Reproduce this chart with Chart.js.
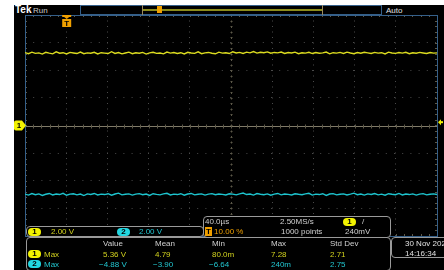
<!DOCTYPE html>
<html>
<head>
<meta charset="utf-8">
<script src="https://cdn.jsdelivr.net/npm/chart.js@4.4.0/dist/chart.umd.min.js"></script>
<style>
  html, body { margin: 0; padding: 0; background: #fff; }
  body { width: 444px; height: 270px; position: relative; overflow: hidden; font-family: "Liberation Sans", Arial, sans-serif; }
  #screen { position: absolute; left: 14px; top: 5px; width: 430px; height: 265px; background: #000; }
  #scope { position: absolute; left: 0; top: 0; }
  .t { position: absolute; font-size: 8px; line-height: 9px; white-space: nowrap; color: #d0d0d0; }
  .box { position: absolute; border: 1px solid #9a9a9a; border-radius: 4px; box-sizing: border-box; background: #000; }
  .badge { position: absolute; width: 13px; height: 8px; border-radius: 5px; color: #000; font-weight: bold;
           font-size: 8px; line-height: 8px; text-align: center; }
  .y { color: #d2d21e; }
  .c { color: #22c6d0; }
  .by { background: #f2f200; }
  .bc { background: #22d6e0; }
</style>
</head>
<body>
<div id="screen"></div>

<!-- top bar -->
<div class="t" style="left:15px;top:5px;font-size:10px;line-height:10px;font-weight:bold;color:#fff;">Tek</div>
<div class="t" style="left:33px;top:6px;color:#c8c8c8;">Run</div>
<div style="position:absolute;left:80px;top:5px;width:302px;height:10px;border:1px solid #35608a;box-sizing:border-box;"></div>
<div style="position:absolute;left:142px;top:5px;width:1px;height:10px;background:#9a8a60;"></div>
<div style="position:absolute;left:322px;top:5px;width:1px;height:10px;background:#9a8a60;"></div>
<div style="position:absolute;left:143px;top:9px;width:179px;height:2px;background:#8c8c1c;"></div>
<div style="position:absolute;left:157px;top:6px;width:5px;height:7px;background:#f0a000;"></div>
<div class="t" style="left:386px;top:6px;color:#e0e0e0;">Auto</div>

<canvas id="scope" width="444" height="270"></canvas>

<!-- channel scale box -->
<div class="box" style="left:26px;top:226px;width:178px;height:11px;"></div>
<div class="badge by" style="left:28px;top:228px;">1</div>
<div class="t y" style="left:51px;top:227px;">2.00 V</div>
<div class="badge bc" style="left:117px;top:228px;">2</div>
<div class="t c" style="left:139px;top:227px;">2.00 V</div>

<!-- horizontal / trigger box -->
<div class="box" style="left:203px;top:216px;width:188px;height:22px;"></div>
<div class="t" style="left:205px;top:217px;">40.0µs</div>
<div class="t" style="left:205px;top:227px;color:#f0a000;"><span style="background:#f0a000;color:#000;font-weight:bold;padding:0 1px;">T</span> 10.00 %</div>
<div class="t" style="left:280px;top:217px;">2.50MS/s</div>
<div class="t" style="left:281px;top:227px;">1000 points</div>
<div class="badge by" style="left:343px;top:218px;">1</div>
<div class="t" style="left:362px;top:217px;">/</div>
<div class="t" style="left:345px;top:227px;">240mV</div>

<!-- measurements box -->
<div class="box" style="left:26px;top:237px;width:365px;height:34px;"></div>
<div class="t" style="left:103px;top:239px;">Value</div>
<div class="t" style="left:155px;top:239px;">Mean</div>
<div class="t" style="left:212px;top:239px;">Min</div>
<div class="t" style="left:271px;top:239px;">Max</div>
<div class="t" style="left:330px;top:239px;">Std Dev</div>

<div class="badge by" style="left:28px;top:250px;">1</div>
<div class="t y" style="left:44px;top:250px;">Max</div>
<div class="t y" style="left:103px;top:250px;">5.36 V</div>
<div class="t y" style="left:155px;top:250px;">4.79</div>
<div class="t y" style="left:212px;top:250px;">80.0m</div>
<div class="t y" style="left:271px;top:250px;">7.28</div>
<div class="t y" style="left:330px;top:250px;">2.71</div>

<div class="badge bc" style="left:28px;top:260px;">2</div>
<div class="t c" style="left:44px;top:260px;">Max</div>
<div class="t c" style="left:99px;top:260px;">−4.88 V</div>
<div class="t c" style="left:153px;top:260px;">−3.90</div>
<div class="t c" style="left:209px;top:260px;">−6.64</div>
<div class="t c" style="left:271px;top:260px;">240m</div>
<div class="t c" style="left:330px;top:260px;">2.75</div>

<!-- date box -->
<div class="box" style="left:391px;top:237px;width:60px;height:21px;"></div>
<div class="t" style="left:405px;top:239px;color:#e0e0e0;">30 Nov 202</div>
<div class="t" style="left:405px;top:249px;color:#e0e0e0;">14:16:34</div>

<script>
// horizontal: 40 us/div, trigger at 10 %
const timeMin = -40;
const timeMax = 360;
const timePerDiv = 40;
// vertical: 2 V/div, 8 divisions
const voltMin = -8;
const voltMax = 8;
const voltPerDiv = 2;
const triggerLevel = 0.24;

// channel 1 (yellow) samples, volts
const ch1 = [
  5.28, 5.20, 5.31, 5.22, 5.26, 5.17, 5.30, 5.24, 5.19, 5.33, 5.23, 5.27, 5.18, 5.29, 5.25, 5.21, 5.32, 5.20, 5.26, 5.23,
  5.30, 5.18, 5.27, 5.24, 5.21, 5.34, 5.22, 5.28, 5.19, 5.25, 5.31, 5.20, 5.27, 5.23, 5.29, 5.17, 5.26, 5.30, 5.22, 5.25,
  5.19, 5.32, 5.24, 5.28, 5.21, 5.27, 5.18, 5.30, 5.25, 5.22, 5.33, 5.20, 5.26, 5.29, 5.23, 5.19, 5.31, 5.24, 5.27, 5.21,
  5.34, 5.25, 5.29, 5.22, 5.31, 5.26, 5.35, 5.24, 5.30, 5.27, 5.33, 5.23, 5.29, 5.26, 5.32, 5.22, 5.28, 5.25, 5.31, 5.20,
  5.27, 5.24, 5.30, 5.21, 5.28, 5.23, 5.26, 5.32, 5.19, 5.27, 5.24, 5.29, 5.22, 5.31, 5.25, 5.20, 5.28, 5.23, 5.30, 5.26,
  5.21, 5.29, 5.24, 5.27, 5.18, 5.31, 5.25, 5.22, 5.28, 5.24, 5.30, 5.20, 5.27, 5.23, 5.29, 5.25, 5.21, 5.28, 5.24, 5.26
];

// channel 2 (cyan) samples, volts
const ch2 = [
  -4.97, -5.04, -4.93, -5.01, -4.95, -5.06, -4.98, -4.92, -5.03, -4.96, -5.00, -4.91, -5.05, -4.97, -4.94, -5.02, -4.96, -5.07, -4.95, -4.99,
  -4.92, -5.03, -4.97, -5.00, -4.94, -5.05, -4.96, -4.90, -5.02, -4.98, -4.95, -5.04, -4.97, -4.93, -5.01, -4.96, -5.06, -4.94, -4.99, -5.02,
  -4.95, -4.91, -5.03, -4.97, -5.00, -4.94, -5.05, -4.96, -4.92, -5.02, -4.98, -4.95, -5.04, -4.97, -4.93, -5.01, -4.96, -4.99, -5.03, -4.94,
  -4.97, -5.02, -4.95, -4.89, -5.00, -4.96, -5.04, -4.93, -4.98, -5.01, -4.95, -5.05, -4.97, -4.92, -5.02, -4.96, -4.99, -5.03, -4.94, -4.98,
  -5.01, -4.95, -4.91, -5.04, -4.97, -5.00, -4.94, -5.06, -4.96, -4.93, -5.02, -4.98, -4.95, -5.03, -4.97, -4.90, -5.01, -4.96, -5.04, -4.95,
  -4.99, -4.93, -5.02, -4.97, -5.05, -4.94, -4.98, -5.01, -4.92, -5.03, -4.96, -5.00, -4.95, -5.04, -4.97, -4.93, -5.02, -4.98, -4.95, -5.00
];

function toPoints(values) {
  const dt = (timeMax - timeMin) / (values.length - 1);
  return values.map((v, i) => ({ x: timeMin + i * dt, y: v }));
}

const timeCenter = (timeMin + timeMax) / 2;
const gridDot = '#4a4a4a';

// center crosshair with 1/5 div ticks, frame and markers
const scopeDecor = {
  id: 'scopeDecor',
  beforeDatasetsDraw(chart) {
    const { ctx, chartArea: a, scales: { x, y } } = chart;
    const cx = Math.round(x.getPixelForValue(timeCenter)) + 0.5;
    const cy = Math.round(y.getPixelForValue(0)) + 0.5;
    ctx.save();
    ctx.lineWidth = 1;
    ctx.strokeStyle = '#807a68';
    ctx.beginPath();
    ctx.moveTo(a.left, cy); ctx.lineTo(a.right, cy);
    ctx.stroke();
    ctx.strokeStyle = '#5c5848';
    ctx.setLineDash([2, 3.5]);
    ctx.beginPath();
    ctx.moveTo(cx, a.top); ctx.lineTo(cx, a.bottom);
    ctx.stroke();
    ctx.setLineDash([]);
    ctx.strokeStyle = '#5c5848';
    ctx.beginPath();
    for (let t = timeMin; t <= timeMax; t += timePerDiv / 5) {
      const px = Math.round(x.getPixelForValue(t)) + 0.5;
      ctx.moveTo(px, cy - 2); ctx.lineTo(px, cy + 2);
      ctx.moveTo(px, a.top); ctx.lineTo(px, a.top + 2);
      ctx.moveTo(px, a.bottom); ctx.lineTo(px, a.bottom - 2);
    }
    for (let v = voltMin; v <= voltMax; v += voltPerDiv / 5) {
      const py = Math.round(y.getPixelForValue(v)) + 0.5;
      ctx.moveTo(cx - 1, py); ctx.lineTo(cx + 1, py);
      ctx.moveTo(a.left, py); ctx.lineTo(a.left + 2, py);
      ctx.moveTo(a.right, py); ctx.lineTo(a.right - 2, py);
    }
    ctx.stroke();
    ctx.strokeStyle = '#35608a';
    ctx.strokeRect(a.left + 0.5, a.top + 0.5, a.right - a.left, a.bottom - a.top);
    ctx.restore();
  },
  afterDraw(chart) {
    const { ctx, chartArea: a, scales: { x, y } } = chart;
    const gy = y.getPixelForValue(0);
    const ty = y.getPixelForValue(triggerLevel);
    const tx = x.getPixelForValue(0);
    ctx.save();
    // channel 1 ground marker
    ctx.fillStyle = '#f2f200';
    ctx.beginPath();
    ctx.moveTo(16, gy - 5);
    ctx.lineTo(a.left - 3, gy - 5);
    ctx.lineTo(a.left + 1, gy);
    ctx.lineTo(a.left - 3, gy + 5);
    ctx.lineTo(16, gy + 5);
    ctx.quadraticCurveTo(14, gy + 5, 14, gy + 3);
    ctx.lineTo(14, gy - 3);
    ctx.quadraticCurveTo(14, gy - 5, 16, gy - 5);
    ctx.fill();
    ctx.fillStyle = '#000';
    ctx.font = 'bold 8px "Liberation Sans", Arial, sans-serif';
    ctx.textAlign = 'center';
    ctx.textBaseline = 'middle';
    ctx.fillText('1', 19, gy + 0.5);
    // trigger level marker
    ctx.fillStyle = '#f2f200';
    ctx.beginPath();
    ctx.moveTo(a.right + 1, ty);
    ctx.lineTo(a.right + 4, ty - 3);
    ctx.lineTo(a.right + 4, ty + 3);
    ctx.fill();
    ctx.fillRect(a.right + 3, ty - 1, 3, 2);
    // trigger position marker
    ctx.fillStyle = '#f0a000';
    ctx.fillRect(tx - 4, a.top, 9, 2);
    ctx.beginPath();
    ctx.moveTo(tx - 2, a.top + 2); ctx.lineTo(tx + 3, a.top + 2); ctx.lineTo(tx + 0.5, a.top + 4);
    ctx.fill();
    ctx.fillRect(tx - 4, a.top + 4, 9, 8);
    ctx.fillStyle = '#000';
    ctx.fillText('T', tx + 0.5, a.top + 8.5);
    ctx.restore();
  }
};

new Chart(document.getElementById('scope'), {
  type: 'line',
  data: {
    datasets: [
      { data: toPoints(ch1), borderColor: '#dcdc20', borderWidth: 1.4, pointRadius: 0, tension: 0 },
      { data: toPoints(ch2), borderColor: '#1ec4ce', borderWidth: 1.4, pointRadius: 0, tension: 0 }
    ]
  },
  options: {
    responsive: false,
    animation: false,
    events: [],
    layout: { padding: { left: 25, top: 15, right: 7, bottom: 34 } },
    plugins: { legend: { display: false }, tooltip: { enabled: false } },
    scales: {
      x: {
        type: 'linear', min: timeMin, max: timeMax,
        ticks: { display: false, stepSize: timePerDiv },
        grid: {
          drawTicks: false,
          color: c => (c.tick.value === timeCenter || c.tick.value === timeMin || c.tick.value === timeMax) ? 'rgba(0,0,0,0)' : gridDot
        },
        border: { display: false, dash: [1, 4.5] }
      },
      y: {
        min: voltMin, max: voltMax,
        ticks: { display: false, stepSize: voltPerDiv },
        grid: {
          drawTicks: false,
          color: c => (c.tick.value === 0 || c.tick.value === voltMin || c.tick.value === voltMax) ? 'rgba(0,0,0,0)' : gridDot
        },
        border: { display: false, dash: [1, 7.2] }
      }
    }
  },
  plugins: [scopeDecor]
});
</script>
</body>
</html>
